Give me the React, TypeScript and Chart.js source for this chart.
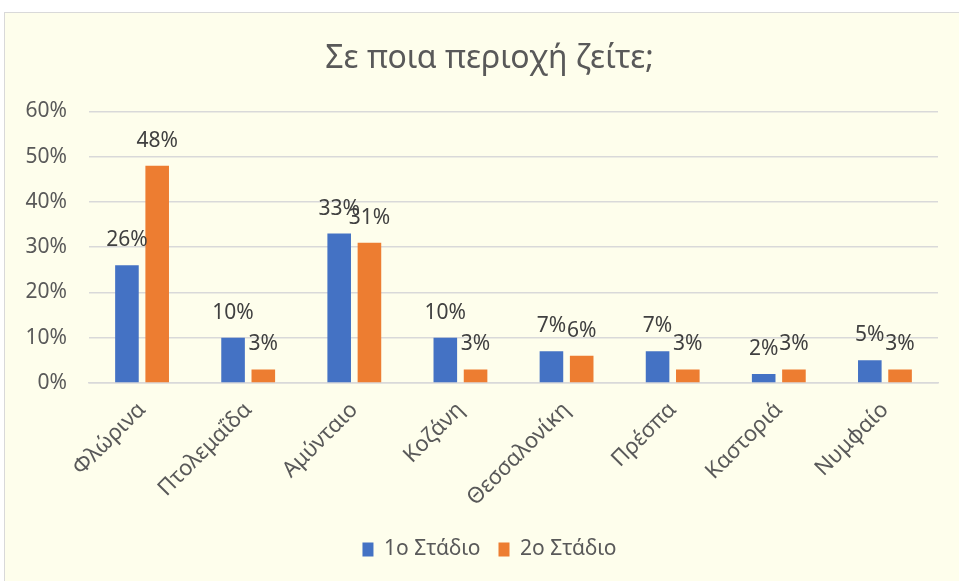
import React, { useEffect, useRef } from "react";
import { Chart, registerables } from "chart.js";

Chart.register(...registerables);

const titleText = "Σε ποια περιοχή ζείτε;";
const categories = ["Φλώρινα", "Πτολεμαΐδα", "Αμύνταιο", "Κοζάνη", "Θεσσαλονίκη", "Πρέσπα", "Καστοριά", "Νυμφαίο"];
const seriesNames = ["1ο Στάδιο", "2ο Στάδιο"];
const stage1 = [26, 10, 33, 10, 7, 7, 2, 5];
const stage2 = [48, 3, 31, 3, 6, 3, 3, 3];
const yMin = 0;
const yMax = 60;
const yStep = 10;

const FONT = "'Noto Sans', sans-serif";

const dataLabels = {
  id: "dataLabels",
  afterDatasetsDraw(chart: any) {
    const ctx = chart.ctx;
    ctx.save();
    ctx.font = "21px " + FONT;
    ctx.fillStyle = "#404040";
    ctx.textAlign = "center";
    ctx.textBaseline = "middle";
    chart.data.datasets.forEach((ds: any, i: number) => {
      const meta = chart.getDatasetMeta(i);
      meta.data.forEach((bar: any, j: number) => {
        ctx.fillText(ds.data[j] + "%", bar.x, bar.y - 25);
      });
    });
    ctx.restore();
  },
};

export default function App() {
  const ref = useRef<HTMLCanvasElement | null>(null);
  useEffect(() => {
    if (!ref.current) return;
    Chart.defaults.font.family = FONT;
    const chart = new Chart(ref.current, {
      type: "bar",
      data: {
        labels: categories,
        datasets: [
          {
            label: seriesNames[0],
            data: stage1,
            backgroundColor: "#4472C4",
            categoryPercentage: 0.57,
            barPercentage: 0.78,
          },
          {
            label: seriesNames[1],
            data: stage2,
            backgroundColor: "#ED7D31",
            categoryPercentage: 0.57,
            barPercentage: 0.78,
          },
        ],
      },
      options: {
        responsive: false,
        animation: false,
        layout: { padding: { left: 20, right: 0, top: 40, bottom: 11 } },
        plugins: {
          title: {
            display: true,
            text: titleText,
            color: "#595959",
            font: { size: 32, weight: "normal" as any, family: FONT },
            padding: { top: 0, bottom: 33 },
          },
          legend: {
            position: "bottom",
            labels: {
              boxWidth: 11,
              boxHeight: 14,
              color: "#595959",
              font: { size: 21, family: FONT },
              padding: 18,
            },
          },
          tooltip: { enabled: false },
        },
        scales: {
          x: {
            grid: { display: false },
            border: { color: "#d9d9d9", width: 1.5 },
            ticks: {
              color: "#595959",
              font: { size: 22, family: FONT },
              minRotation: 45,
              maxRotation: 45,
              autoSkip: false,
              padding: 6,
            },
            afterFit: (s: any) => {
              s.height = 138;
            },
          },
          y: {
            min: yMin,
            max: yMax,
            ticks: {
              stepSize: yStep,
              color: "#595959",
              font: { size: 21, family: FONT },
              padding: 22,
              callback: (v: any) => v + "%",
            },
            grid: { color: "#d9d9d9", lineWidth: 1.5, drawTicks: false },
            border: { display: false },
            afterFit: (s: any) => {
              s.width = 69;
            },
          },
          yRight: {
            type: "linear",
            position: "right",
            min: yMin,
            max: yMax,
            grid: { display: false, drawTicks: false },
            border: { display: false },
            ticks: { display: false },
            afterFit: (s: any) => {
              s.width = 21;
            },
          },
        },
      },
      plugins: [dataLabels],
    });
    return () => chart.destroy();
  }, []);

  return (
    <div style={{ position: "fixed", left: 0, top: 0, width: 959, height: 581, background: "#ffffff", overflow: "hidden" }}>
      <div
        style={{
          position: "absolute",
          left: 4,
          top: 12,
          width: 990,
          height: 600,
          border: "1px solid #d9d9d9",
          background: "#FEFEEC",
        }}
      />
      <canvas ref={ref} width={959} height={581} style={{ position: "absolute", left: 0, top: 0 }} />
    </div>
  );
}
